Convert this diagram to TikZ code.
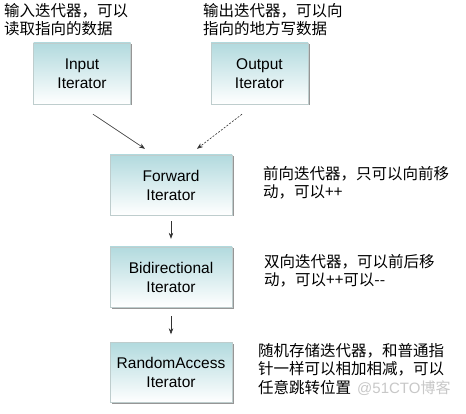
\documentclass[tikz,border=0pt]{standalone}
\usepackage{fontspec}
\setmainfont{Liberation Sans}
\newfontfamily\cjk{Noto Sans CJK SC}
\usetikzlibrary{calc,arrows.meta}
\definecolor{boxtop}{RGB}{178,218,222}
\definecolor{boxedge}{RGB}{190,205,205}
\definecolor{shadowc}{RGB}{150,150,150}
\definecolor{linec}{RGB}{50,50,50}
\definecolor{wmark}{RGB}{200,200,200}
\tikzset{
  iterbox/.style={minimum width=97pt, minimum height=61pt, inner sep=0pt,
    top color=boxtop, bottom color=white, draw=boxedge, line width=0.4pt,
    align=center, font=\fontsize{15.5}{19}\selectfont,
    drop shadow={shadow xshift=1.5pt, shadow yshift=-1.5pt, fill=shadowc, opacity=1}},
  widebox/.style={iterbox, minimum width=122pt, minimum height=60pt},
  note/.style={anchor=north west, align=left, inner sep=0pt,
    font=\cjk\fontsize{15.5}{18}\selectfont},
  conn/.style={draw=linec, line width=0.6pt, -{Stealth[length=6pt,width=4.5pt]}}
}
\usetikzlibrary{shadows}
\begin{document}
\begin{tikzpicture}[x=1pt,y=-1pt]
\useasboundingbox (0,0) rectangle (466,414);
\fill[white] (0,0) rectangle (466,414);

\node[iterbox] (in) at (82,73.5) {Input\\Iterator};
\node[iterbox] (out) at (259.5,73.5) {Output\\Iterator};
\node[widebox] (fwd) at (171,185) {Forward\\Iterator};
\node[widebox] (bi) at (171,277) {Bidirectional\\Iterator};
\node[widebox] (ra) at (171,372.5) {RandomAccess\\Iterator};

\node[note] (tin) at (4,3) {输入迭代器，可以\\读取指向的数据};
\node[note] (tout) at (203,3) {输出迭代器，可以向\\指向的地方写数据};
\node[note] (tfwd) at (263,166) {前向迭代器，只可以向前移\\动，可以++};
\node[note] (tbi) at (264,254) {双向迭代器，可以前后移\\动，可以++可以--};
\node[note, font=\cjk\fontsize{15.5}{18.5}\selectfont] (tra) at (258,343) {随机存储迭代器，和普通指\\针一样可以相加相减，可以\\任意跳转位置};
\node[anchor=west, inner sep=0pt, text=wmark, font=\fontsize{15}{18}\selectfont] (wm) at (357,388) {@51CTO{\cjk 博客}};

\coordinate (a1) at ($(in.south)+(11,10)$);
\coordinate (a2) at ($(fwd.north)+(-26,-6)$);
\coordinate (b1) at ($(out.south)+(-17.5,10)$);
\coordinate (b2) at ($(fwd.north)+(26,-6)$);
\draw[conn] (a1) -- (a2);
\draw[conn, dashed, dash pattern=on 2pt off 1.5pt] (b1) -- (b2);
\draw[conn, shorten <=6pt, shorten >=8pt] (fwd.south) -- (bi.north);
\draw[conn, shorten <=9pt, shorten >=8pt] (bi.south) -- (ra.north);
\end{tikzpicture}
\end{document}
